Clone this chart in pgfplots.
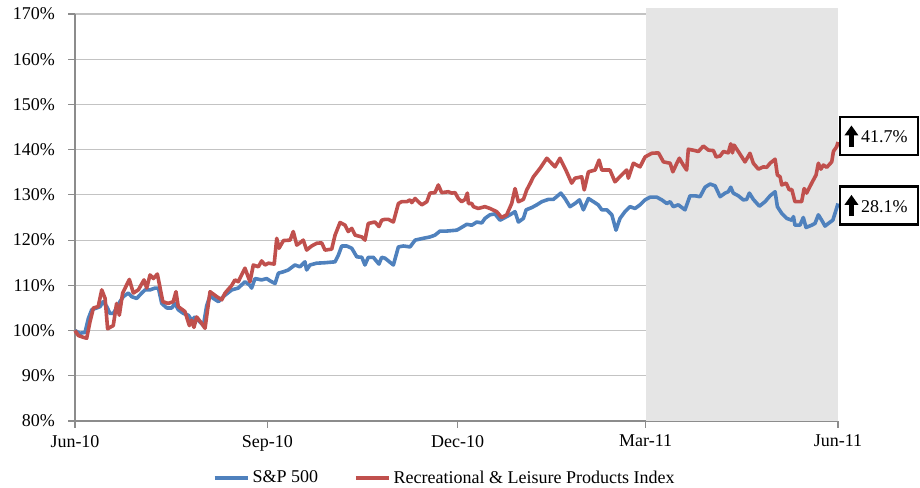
\documentclass[border=0pt]{standalone}
\usepackage{fontspec}
\setmainfont{Liberation Serif}
\usepackage{pgfplots}
\pgfplotsset{compat=1.18}
\usetikzlibrary{arrows.meta}
\definecolor{spblue}{RGB}{79,129,189}
\definecolor{recred}{RGB}{192,80,77}
\definecolor{shadec}{RGB}{229,229,229}
\definecolor{gridc}{RGB}{195,195,195}
\definecolor{axc}{RGB}{140,140,140}
\newcommand{\cf}{\fontsize{13.5pt}{16pt}\selectfont}
\begin{document}
\begin{tikzpicture}
\begin{axis}[
  set layers,
  at={(0,0)}, anchor=south west,
  scale only axis, width=572.25pt, height=305.25pt,
  xmin=0, xmax=365, ymin=80, ymax=170,
  clip=false,
  xtick={0,92,183,273,365},
  xticklabels={Jun-10,Sep-10,Dec-10,Mar-11,Jun-11},
  ytick={80,90,...,170},
  yticklabel={\pgfmathprintnumber{\tick}\%},
  /pgf/number format/assume math mode=true,
  ticklabel style={font=\cf},
  yticklabel style={xshift=-6.5pt},
  xticklabel style={yshift=-2pt},
  ymajorgrids, grid style={draw=gridc, line width=0.8pt},
  axis x line*=bottom, axis y line*=left,
  axis line style={draw=axc, line width=0.8pt, -},
  tick style={draw=axc, line width=0.8pt},
  tick align=outside, major tick length=5pt,
  legend style={at={(0.485,-0.14)}, anchor=center, draw=none, fill=none,
    font=\cf, /tikz/every even column/.append style={column sep=25pt}},
  legend columns=2,
  legend image code/.code={\draw[#1] (0pt,0pt) -- (25pt,0pt);},
]
\fill[fill=shadec, on layer=axis background] (axis cs:273,80) rectangle (axis cs:365,171.3);

\addplot[spblue, line width=2.7pt, line join=round] coordinates {
(0,100) (2.4,99.4) (4.8,99.6) (6.4,102.7) (8.0,104.6) (10.4,105) (12.0,105.3) (13.5,106.4)
(15.2,105.3) (16.7,103.8) (18.3,103.8) (19.9,105) (21.5,106.4) (23.1,107.5) (25.5,108.3)
(27.1,107.5) (29.5,107.1) (31.9,108.3) (33.5,109) (35.9,109) (38.3,109.4) (39.9,109.4)
(41.5,106) (43.9,105) (46.3,105) (47.8,106) (49.4,104.6) (51.8,103.8) (54.2,103.4)
(55.8,102.3) (57.4,103) (59.8,101.9) (61.4,101.1) (63.0,105.5) (64.6,107.7) (66.2,107.1)
(68.6,106.4) (70.9,107.5) (75.0,109) (78.1,109.4) (81.3,110.8) (83.7,110) (84.5,109.4)
(86.1,111.5) (89.3,111.2) (91.7,111.5) (93.3,111) (95.7,110.4) (97.3,112.7) (99.7,113)
(102.0,113.4) (105.2,114.5) (107.6,114.1) (110.0,115.2) (110.8,113.4) (112.4,114.5)
(115.6,114.9) (119.6,115) (124.4,115.2) (126.0,116.7) (127.6,118.7) (130.0,118.7)
(132.4,118.2) (134.8,116.3) (137.2,116.2) (138.7,114.5) (140.3,116.2) (142.7,116.2)
(145.4,114.7) (146.7,116.2) (148.3,116) (152.3,114.5) (154.7,118.5) (157.1,118.7)
(160.3,118.5) (162.7,120) (166.6,120.4) (169.8,120.7) (172.2,121.1) (174.6,122)
(177.8,122) (182.6,122.2) (184.2,122.6) (187.4,123.5) (189.8,123.3) (192.2,124)
(194.6,123.8) (196.1,124.8) (198.5,125.6) (200.9,125.8) (203.3,124.4) (205.7,125)
(208.1,125.6) (210.5,126.3) (212.1,124) (214.5,124.8) (215.8,126.7) (218.5,127.2)
(220.9,127.8) (223.3,128.5) (226.4,129) (228.8,129) (230.4,129.6) (232.4,130.4)
(234.4,129.2) (236.8,127.4) (239.2,128.1) (241.3,128.9) (243.2,126.7) (245.6,129.2)
(248.0,128.5) (250.3,127.8) (252.0,126.7) (254.4,126.7) (256.8,125.6) (258.8,122.2)
(260.7,124.8) (263.1,126.3) (265.5,127.4) (267.9,127.0) (270.3,127.8) (272.7,128.9)
(275.1,129.5) (278.3,129.5) (280.7,128.9) (283.1,128.1) (284.7,128.5) (286.2,127.4)
(288.6,127.8) (291.8,126.7) (294.2,129.8) (296.6,129.8) (299.0,129.6) (301.4,131.7)
(303.8,132.4) (306.2,132.0) (308.6,129.6) (311.0,130.4) (312.5,130.7) (313.7,131.7)
(314.9,130.4) (317.3,129.8) (319.7,128.9) (321.3,129.0) (322.6,130.4) (324.5,129.0)
(327.4,127.5) (330.1,128.5) (332.5,129.8) (334.9,130.7) (336.0,127.4) (338.1,125.9)
(340.5,124.8) (342.9,124.4) (343.7,125.2) (344.4,123.3) (346.8,123.3) (348.4,125)
(349.7,122.8) (352.4,123.3) (354.0,123.7) (355.6,125.6) (357.2,124.4) (358.8,123.1)
(360.4,123.7) (362.5,124.4) (364.1,126.7) (365,128.1)
};
\addlegendentry{S\&P 500}

\addplot[recred, line width=2.7pt, line join=round] coordinates {
(0,100) (1.6,98.9) (4.0,98.5) (5.6,98.3) (7.2,102) (8.8,105) (11.1,105.3) (12.8,109)
(14.4,107.1) (15.6,100.4) (18.3,101.1) (19.9,106) (21.2,103.4) (22.8,108.3) (26.0,111.3)
(27.9,108.3) (30.3,109) (33.0,111.2) (34.3,109.4) (35.9,112.3) (37.5,111.5) (39.4,112.5)
(42.0,106.4) (44.6,106) (47.0,106.4) (48.3,108.6) (49.4,105.3) (52.6,104.2) (54.7,101.1)
(55.8,102.3) (56.9,100.7) (58.2,103) (60.6,101.6) (62.2,100.5) (64.6,108.6) (67.8,107.5)
(70.2,106.8) (71.8,108.3) (75.0,110) (76.5,111.2) (78.1,110.8) (81.3,113.8) (83.7,110.8)
(85.3,114.5) (87.7,114.1) (89.3,115.4) (90.9,114.5) (92.5,114.9) (95.3,114.7) (96.5,120.4)
(97.6,118.2) (99.7,119.9) (102.9,120) (104.4,121.9) (106.1,118.9) (107.6,119.4) (109.2,120)
(110.8,117.8) (113.2,118.7) (115.6,119.3) (118.0,119.4) (119.6,117.8) (122.8,118)
(124.4,121.1) (126.8,123.9) (129.2,123.3) (130.7,121.9) (132.4,122.6) (134.0,121.1)
(137.2,120.7) (138.7,120) (140.3,123.7) (143.5,124) (145.4,123) (146.7,124.4) (148.3,124.6)
(149.9,124.6) (152.3,124) (154.7,128.1) (156.3,128.5) (158.7,128.5) (160.3,128.9)
(161.1,128.3) (162.7,129.2) (164.2,128.5) (165.9,127.8) (168.3,128.5) (169.8,130.4)
(172.2,130.5) (173.8,132.2) (175.4,130.5) (178.6,130.7) (180.2,130.4) (181.8,130.5)
(183.4,129.2) (185.0,128.5) (186.6,129) (187.7,130.4) (188.2,128.1) (189.8,128.1)
(190.6,127.4) (192.9,127) (196.1,127.4) (198.5,127) (201.7,126.3) (204.1,125) (206.5,125.6)
(208.9,128.1) (210.5,131.4) (212.1,128.5) (214.5,129) (216.1,131.1) (217.7,132.5)
(219.3,134.0) (222.5,135.9) (225.7,138.1) (229.6,136.2) (232.0,138.1) (235.2,135.1)
(237.6,132.6) (239.2,133.7) (242.4,134.0) (243.6,131.1) (245.6,135.1) (248.8,135.5)
(250.7,137.7) (252.0,135.5) (255.9,135.5) (258.3,132.9) (261.5,134.4) (263.9,135.5)
(264.7,133.7) (267.1,137.0) (270.3,136.2) (272.7,138.4) (275.9,139.2) (279.1,139.3)
(281.5,137.3) (284.7,137.0) (286.0,135.1) (287.9,137.0) (289.1,138.1) (291.0,136.6)
(292.6,135.5) (293.4,140.1) (296.6,139.8) (298.2,139.6) (300.6,140.8) (303.0,139.9)
(305.4,139.8) (306.7,138.4) (308.6,138.6) (310.2,139.6) (312.5,139.3) (313.7,141.3)
(314.5,139.3) (315.3,141.0) (317.3,139.6) (320.5,137.3) (322.9,139.2) (324.5,137.0)
(326.9,135.7) (329.3,136.2) (330.9,136.1) (332.5,137.0) (334.9,137.9) (336.0,134.4)
(337.3,134.0) (338.1,132.2) (340.2,132.6) (341.7,131.1) (342.9,131.2) (344.4,128.5)
(347.6,128.5) (348.8,131.4) (350.0,130.4) (352.4,132.6) (354.5,134.4) (355.6,137.0)
(356.8,135.7) (358.0,136.6) (359.6,136.1) (362.0,137.3) (362.8,139.6) (364.4,140.7)
(365,141.7)
};
\addlegendentry{Recreational \& Leisure Products Index}

\coordinate (c1) at (axis cs:384.6,143.0);
\coordinate (c2) at (axis cs:384.6,127.65);
\end{axis}
\foreach \c/\t in {c1/41.7, c2/28.1}{
  \node[draw=black, line width=1.6pt, fill=white, minimum width=58.5pt, minimum height=28.5pt, inner sep=0pt] (bx) at (\c) {};
  \node[anchor=west, font=\cf, inner sep=0pt] at ([xshift=16.5pt,yshift=-0.5pt]bx.west) {\t\%};
  \draw[line width=3.6pt, -{Triangle[width=10pt,length=7.5pt]}] ([xshift=9.4pt,yshift=-8pt]bx.west) -- ([xshift=9.4pt,yshift=8pt]bx.west);
}
\pgfresetboundingbox
\path[use as bounding box] (-56.25pt,-49.5pt) rectangle (633.75pt,315.75pt);
\end{tikzpicture}
\end{document}
